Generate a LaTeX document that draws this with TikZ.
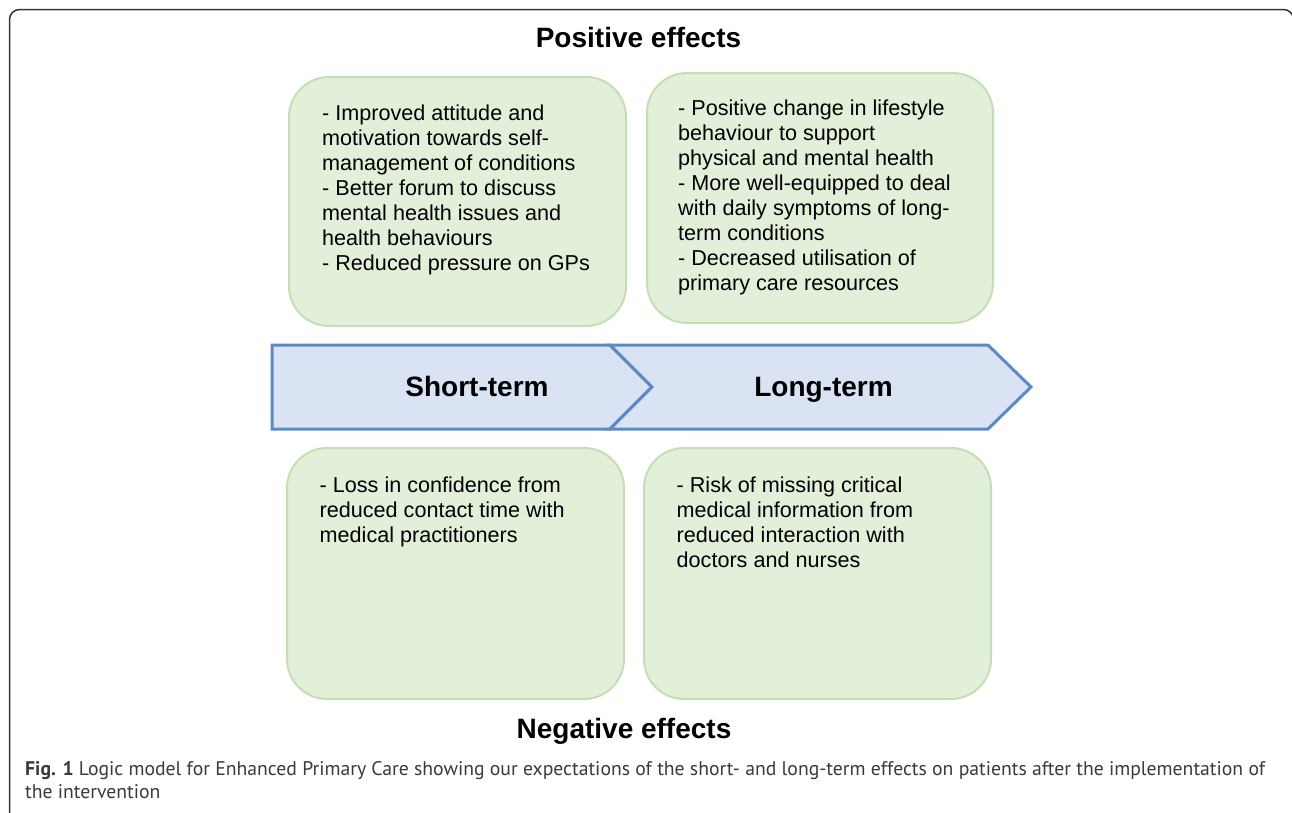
\documentclass[tikz,border=0pt]{standalone}
\usepackage{fontspec}
\setmainfont{Liberation Sans}
\newfontfamily\capfont{PT Sans}
\definecolor{boxfill}{HTML}{E2EFD9}
\definecolor{boxline}{HTML}{C5DFB4}
\definecolor{chevfill}{HTML}{DAE3F3}
\definecolor{chevline}{HTML}{5A8BC5}
\definecolor{framecol}{HTML}{333333}
\definecolor{captxt}{HTML}{3A3A3A}
\tikzset{
  gbox/.style={draw=boxline, fill=boxfill, line width=2pt, rounded corners=40pt, anchor=north west, inner sep=0pt},
  txt/.style={anchor=base west, inner sep=0pt},
  chev/.style={draw=chevline, fill=chevfill, line width=3pt, line join=miter},
  title/.style={anchor=base, inner sep=0pt, font=\bfseries\fontsize{28}{32}\selectfont},
  framestyle/.style={draw=framecol, line width=1.5pt, rounded corners=10pt},
  captext/.style={anchor=base west, inner sep=0pt, text=captxt, font=\capfont\fontsize{19.7}{23}\selectfont}
}
\newcommand{\boxtext}[1]{\parbox[t]{320pt}{\fontsize{21.6}{25}\selectfont\raggedright #1}}
\begin{document}
\begin{tikzpicture}[x=1pt,y=-1pt]
\useasboundingbox[fill=white] (0,0) rectangle (1292,812);
% frame
\draw[framestyle] (9.5,830) -- (9.5,9.5) -- (1293.5,9.5) -- (1293.5,830);
% titles
\node[title] (pos) at (638.5,47) {Positive effects};
\node[title] (neg) at (624,738) {Negative effects};
% green boxes
\node[gbox, minimum width=337pt, minimum height=249pt] (b1) at (288,76) {};
\node[gbox, minimum width=346pt, minimum height=250pt] (b2) at (646,72) {};
\node[gbox, minimum width=337pt, minimum height=251pt] (b3) at (286,447) {};
\node[gbox, minimum width=347pt, minimum height=251pt] (b4) at (643,447) {};
% box texts
\node[txt] (t1) at (322,120) {\boxtext{- Improved attitude and\\motivation towards self-\\management of conditions\\- Better forum to discuss\\mental health issues and\\health behaviours\\- Reduced pressure on GPs}};
\node[txt] (t2) at (678,115) {\boxtext{- Positive change in lifestyle\\behaviour to support\\physical and mental health\\- More well-equipped to deal\\with daily symptoms of long-\\term conditions\\- Decreased utilisation of\\primary care resources}};
\node[txt] (t3) at (319.5,492) {\boxtext{- Loss in confidence from\\reduced contact time with\\medical practitioners}};
\node[txt] (t4) at (676.5,492) {\boxtext{- Risk of missing critical\\medical information from\\reduced interaction with\\doctors and nurses}};
% chevrons
\draw[chev] (272,345) -- (610,345) -- (652,387) -- (610,429) -- (272,429) -- cycle;
\draw[chev] (610,345) -- (988,345) -- (1031,387) -- (988,429) -- (610,429) -- (652,387) -- cycle;
\node[title] (st) at (477,396) {Short-term};
\node[title] (lt) at (823.5,396) {Long-term};
% caption
\node[captext] (cap1) at (25,775) {\textbf{Fig. 1} Logic model for Enhanced Primary Care showing our expectations of the short- and long-term effects on patients after the implementation of};
\node[captext] (cap2) at (25,798) {the intervention};
\end{tikzpicture}
\end{document}
